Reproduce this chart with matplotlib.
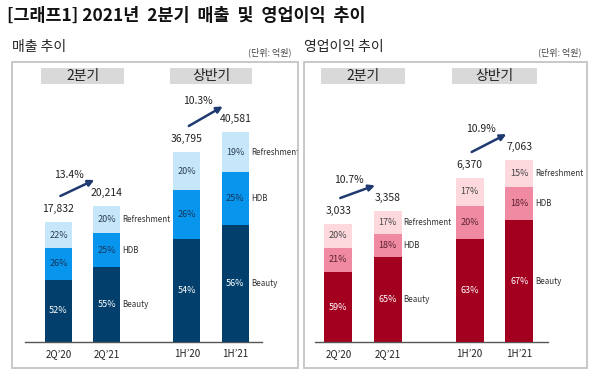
import matplotlib
matplotlib.use("Agg")
import matplotlib.pyplot as plt
from matplotlib.patches import Rectangle
import matplotlib.transforms as mtransforms

plt.rcParams["font.family"] = ["Noto Sans CJK KR", "DejaVu Sans"]

# ---------------- data ----------------
periods = ["2Q’20", "2Q’21", "1H’20", "1H’21"]
segments = ["Beauty", "HDB", "Refreshment"]

sales_total = [17832, 20214, 36795, 40581]
sales_pct = {
    "Beauty": [52, 55, 54, 56],
    "HDB": [26, 25, 26, 25],
    "Refreshment": [22, 20, 20, 19],
}
sales_growth = ["13.4%", "10.3%"]

op_total = [3033, 3358, 6370, 7063]
op_pct = {
    "Beauty": [59, 65, 63, 67],
    "HDB": [21, 18, 20, 18],
    "Refreshment": [20, 17, 17, 15],
}
op_growth = ["10.7%", "10.9%"]

group_names = ["2분기", "상반기"]

sales_colors = {"Beauty": "#023f6c", "HDB": "#0895ee", "Refreshment": "#c6e6fa"}
sales_txt = {"Beauty": "white", "HDB": "#14365a", "Refreshment": "#2a3d55"}
op_colors = {"Beauty": "#a3001f", "HDB": "#f08aa2", "Refreshment": "#fdd9dd"}
op_txt = {"Beauty": "white", "HDB": "#5a2030", "Refreshment": "#444444"}

W, H = 600, 379
fig = plt.figure(figsize=(6.0, 3.79), dpi=100)


def fx(px):
    return px / W


def fy(py):
    return 1 - py / H


# title
fig.text(fx(7), fy(16), "[그래프1] 2021년  2분기  매출  및  영업이익  추이",
         fontsize=12.5, fontweight="bold", color="#111111", va="center", ha="left")

x_pos = [0, 1, 2.65, 3.65]
bar_w = 0.56


def draw_panel(box, ax_px, xlim, title, totals, pct, colors, txtc, growth, scale_px):
    # panel border
    x0, y0, x1, y1 = box
    fig.patches.append(Rectangle((fx(x0), fy(y1)), fx(x1 - x0), (y1 - y0) / H,
                                 transform=fig.transFigure, fill=False,
                                 edgecolor="#c4c4c4", lw=1.3))
    fig.text(fx(x0), fy(y0 - 15), title, fontsize=10, color="#222222",
             va="center", ha="left")
    fig.text(fx(x1 - 6), fy(y0 - 10), "(단위: 억원)", fontsize=6.5,
             color="#444444", va="center", ha="right")

    left, right, top, bottom = ax_px
    ax = fig.add_axes([fx(left), fy(bottom), fx(right - left), (bottom - top) / H])
    ax2 = ax.twinx()
    axes_h = bottom - top
    # quarter bars on ax, half-year bars on ax2 (two separate scales)
    lims = [totals[0] / scale_px[0] * axes_h, totals[2] / scale_px[1] * axes_h]
    ax.set_ylim(0, lims[0])
    ax2.set_ylim(0, lims[1])
    for a in (ax, ax2):
        a.set_xlim(*xlim)
        a.patch.set_visible(False)
        for s in ("left", "right", "top"):
            a.spines[s].set_visible(False)
        a.set_yticks([])
    ax.spines["bottom"].set_color("#555555")
    ax.spines["bottom"].set_linewidth(1.0)
    ax2.spines["bottom"].set_visible(False)
    ax.set_xticks(x_pos)
    ax.set_xticklabels(periods, fontsize=7, color="#222222")
    ax.tick_params(axis="x", length=0, pad=5)

    for i in range(4):
        a = ax if i < 2 else ax2
        lim = lims[0] if i < 2 else lims[1]
        px = lim / axes_h  # data units per pixel
        base = 0
        for seg in segments:
            h = totals[i] * pct[seg][i] / (sum(pct[s][i] for s in segments))
            a.bar(x_pos[i], h, bar_w, bottom=base, color=colors[seg], edgecolor="none")
            mid = base + h / 2
            a.text(x_pos[i], mid, f"{pct[seg][i]}%", ha="center", va="center",
                   fontsize=6.5, color=txtc[seg])
            if i in (1, 3):
                a.text(x_pos[i] + bar_w / 2 + 0.04, mid, seg, ha="left", va="center",
                       fontsize=5.8, color="#333333")
            base += h
        a.text(x_pos[i], totals[i] + 13 * px, f"{totals[i]:,}", ha="center",
               va="center", fontsize=7.5, color="#222222")

    # growth arrows
    for g, (a, lim) in enumerate([(ax, lims[0]), (ax2, lims[1])]):
        i0, i1 = 2 * g, 2 * g + 1
        px = lim / axes_h
        a.annotate("", xy=(x_pos[i1] - 0.26, totals[i1] + 26 * px),
                   xytext=(x_pos[i0] + 0.04, totals[i0] + 26 * px),
                   arrowprops=dict(arrowstyle="-|>", color="#1f3a70", lw=1.8,
                                   mutation_scale=9, shrinkA=0, shrinkB=0))
        a.text(x_pos[i0] + 0.22, totals[i1] + 31 * px, growth[g], ha="center",
               va="center", fontsize=7.5, color="#222222")

    # group header boxes
    trans = mtransforms.blended_transform_factory(ax.transData, ax.transAxes)
    for g in range(2):
        c = (x_pos[2 * g] + x_pos[2 * g + 1]) / 2
        hb0 = (bottom - 84) / axes_h
        hb1 = (bottom - 68) / axes_h
        ax.add_patch(Rectangle((c - 0.85, hb0), 1.7, hb1 - hb0, transform=trans,
                               facecolor="#d9d9d9", edgecolor="none", clip_on=False))
        ax.text(c, (hb0 + hb1) / 2, group_names[g], transform=trans, ha="center",
                va="center", fontsize=10, color="#222222")


draw_panel((12, 62, 298, 368), (25, 262, 62, 342), (-0.69, 4.2), "매출 추이",
           sales_total, sales_pct, sales_colors, sales_txt, sales_growth, (120, 190))
draw_panel((304, 62, 587, 368), (315, 548, 62, 342), (-0.47, 4.23), "영업이익 추이",
           op_total, op_pct, op_colors, op_txt, op_growth, (118, 164))

fig.savefig("out.png", dpi=100)
